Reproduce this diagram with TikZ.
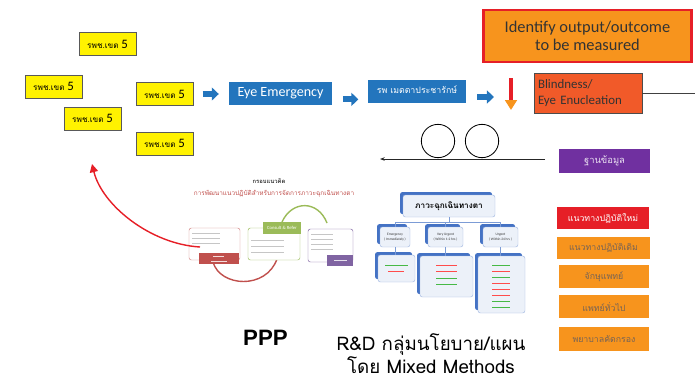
\documentclass[tikz,border=0pt]{standalone}
\usepackage{fontspec}
\setmainfont{Carlito}
\newfontfamily\thaifont[Script=Thai]{Loma}
\newfontfamily\headfont{Liberation Sans}
\usetikzlibrary{arrows.meta, shadows, calc}

\definecolor{slideblue}{RGB}{35,117,189}
\definecolor{hospyellow}{RGB}{255,242,0}
\definecolor{boxorange}{RGB}{247,148,29}
\definecolor{blindorange}{RGB}{241,90,41}
\definecolor{boxred}{RGB}{230,31,39}
\definecolor{dbpurple}{RGB}{112,48,160}
\definecolor{treeblue}{RGB}{68,114,196}
\definecolor{treefill}{RGB}{236,241,249}
\definecolor{fwred}{RGB}{192,80,77}
\definecolor{fwgreen}{RGB}{155,187,89}
\definecolor{fwpurple}{RGB}{128,100,162}
\definecolor{softtext}{RGB}{120,100,85}

\newcommand{\hosptext}{{\thaifont\fontsize{7}{8}\selectfont รพช.เขต} {\fontsize{11}{12}\selectfont 5}}

\tikzset{
  hospbox/.style={draw=gray!70!black, fill=hospyellow, minimum width=1.71cm, minimum height=0.69cm, inner sep=0pt},
  bluebox/.style={fill=slideblue, text=white, inner sep=0pt, minimum height=0.69cm},
  bluearrow/.style={draw=slideblue, line width=5pt, -{Triangle[length=6pt,width=11pt]}},
  sidebox/.style={fill=boxorange, text=softtext, inner sep=0pt, minimum width=2.7cm, minimum height=0.69cm, font=\thaifont\fontsize{7.5}{9}\selectfont},
  treebox/.style={draw=treeblue!50, fill=treefill, rounded corners=2pt, inner sep=0pt,
    drop shadow={shadow xshift=-2.5pt, shadow yshift=2.5pt, fill=treeblue, opacity=1}},
  treeline/.style={draw=treeblue!70, line width=0.6pt},
  smalltree/.style={font=\fontsize{3}{4}\selectfont, align=center, text=black!80}
}

\begin{document}
\begin{tikzpicture}[x=0.03cm, y=-0.03cm]
  \useasboundingbox (0,0) rectangle (695,381);

  % Hospitals of the region
  \node[hospbox] (HospA) at (107.5,44) {\hosptext};
  \node[hospbox] (HospB) at (53.5,86.5) {\hosptext};
  \node[hospbox] (HospC) at (92.5,118.5) {\hosptext};
  \node[hospbox] (HospD) at (164.5,94) {\hosptext};
  \node[hospbox] (HospE) at (164.5,143.5) {\hosptext};

  % Referral path
  \node[bluebox, minimum width=3.09cm, font=\fontsize{12}{14}\selectfont] (EyeEm) at (280.5,93.5) {Eye Emergency};
  \node[bluebox, minimum width=2.94cm, font=\thaifont\fontsize{7.5}{9}\selectfont] (Metta) at (417,91.5) {\raisebox{3pt}{รพ เมตตาประชารักษ์}};
  \coordinate (ArrowEnd) at (494,97);

  \draw[bluearrow, shorten <=8pt, shorten >=8.5pt] (HospD.east) -- (HospD.east -| EyeEm.west);
  \draw[bluearrow, shorten <=9pt, shorten >=8pt] ([yshift=-5pt]EyeEm.east) -- ([yshift=-5pt]EyeEm.east -| Metta.west);
  \draw[bluearrow, shorten <=9.5pt] (Metta.east |- ArrowEnd) -- (ArrowEnd);

  % Outcome
  \node[draw=boxred, line width=2.2pt, fill=boxorange, minimum width=6.25cm, minimum height=1.55cm, align=center,
        text=black!80, font=\fontsize{14}{15}\selectfont] (Identify) at (587.5,36) {Identify output/outcome\\to be measured};
  \node[draw=gray!60!black, fill=blindorange, minimum width=3.24cm, minimum height=1.2cm, align=left,
        text=black!80, font=\fontsize{11}{13}\selectfont, text width=3.0cm] (Blind) at (588,93) {Blindness/\\Eye Enucleation};
  \coordinate (DownTop) at (511,78);
  \coordinate (DownEnd) at (511,110);
  \coordinate (BlindEnd) at (695,93);
  \draw[boxred, line width=3.2pt, -{Triangle[length=8.5pt,width=10pt,color=boxorange]}] (DownTop) -- (DownEnd);
  \draw[black!75, line width=0.8pt] (Blind.east) -- (BlindEnd);

  % Database loop
  \node[draw=black, line width=0.7pt, circle, minimum size=1.0cm] (WheelA) at (438,141) {};
  \node[draw=black, line width=0.7pt, circle, minimum size=1.0cm] (WheelB) at (482,141) {};
  \node[fill=dbpurple, text=white!85!dbpurple, minimum width=2.73cm, minimum height=0.72cm, inner sep=0pt,
        font=\thaifont\fontsize{8}{9}\selectfont] (Database) at (604.5,161) {ฐานข้อมูล};
  \coordinate (LineStart) at (545,159);
  \coordinate (LineEnd) at (380,159);
  \draw[black!85, line width=0.7pt, -{Stealth[length=4pt,width=3pt]}] (LineStart) -- (LineEnd);

  % Guideline levels
  \node[sidebox, fill=boxred, text=white, minimum width=2.76cm, minimum height=0.66cm] (NewGuide) at (603,218) {แนวทางปฏิบัติใหม่};
  \node[sidebox, minimum width=2.79cm, minimum height=0.66cm] (OldGuide) at (603.5,248) {แนวทางปฏิบัติเดิม};
  \node[sidebox] (Ophth) at (604,276.5) {จักษุแพทย์};
  \node[sidebox] (GenDoc) at (604,306.5) {แพทย์ทั่วไป};
  \node[sidebox, minimum height=0.72cm] (Nurse) at (604,339) {พยาบาลคัดกรอง};

  % Triage tree
  \node[treebox, minimum width=2.76cm, minimum height=0.66cm, font=\thaifont\bfseries\fontsize{7}{8}\selectfont] (Root) at (449,206) {ภาวะฉุกเฉินทางตา};
  \node[treebox, smalltree, minimum width=0.9cm, minimum height=0.6cm] (Emerg) at (395,237) {Emergency\\( Immediately )};
  \node[treebox, smalltree, minimum width=1.05cm, minimum height=0.6cm] (VeryUrg) at (445.5,237) {Very Urgent\\( Within 1-2 hrs )};
  \node[treebox, smalltree, minimum width=1.05cm, minimum height=0.6cm] (Urg) at (500.5,237) {Urgent\\( Within 24 hrs )};
  \node[treebox, minimum width=1.11cm, minimum height=0.81cm] (LeafA) at (396.5,268.5) {};
  \node[treebox, minimum width=1.59cm, minimum height=1.23cm] (LeafB) at (446.5,276.5) {};
  \node[treebox, minimum width=1.41cm, minimum height=1.71cm] (LeafC) at (501.5,284.5) {};

  \draw[treeline] (Root.south) -- ++(0,5) -| (Emerg.north);
  \draw[treeline] (Root.south) -- ++(0,5) -| (VeryUrg.north);
  \draw[treeline] (Root.south) -- ++(0,5) -| (Urg.north);
  \draw[treeline] (Emerg.south) -- (Emerg.south |- LeafA.north);
  \draw[treeline] (VeryUrg.south) -- (VeryUrg.south |- LeafB.north);
  \draw[treeline] (Urg.south) -- (Urg.south |- LeafC.north);

  % blurred leaf contents
  \draw[green!45!gray, line width=0.5pt] (385,265) -- (408,265);
  \draw[red!70, line width=0.5pt] (388,271) -- (404,271);
  \foreach \yy/\cc in {265/red!70, 271/red!70, 278/green!45!gray, 284/green!45!gray}
    \draw[\cc, line width=0.5pt] (436,\yy) -- (457,\yy);
  \foreach \yy/\cc in {265/green!45!gray, 271/red!70, 277/green!45!gray, 283/red!70, 289/red!70, 295/red!70, 301/green!45!gray, 307/green!45!gray}
    \draw[\cc, line width=0.5pt] (492,\yy) -- (510,\yy);

  % Framework sketch
  \node[font=\thaifont\bfseries\fontsize{5}{6}\selectfont, text=black!80] (FwTitle) at (269,181) {กรอบแนวคิด};
  \node[font=\thaifont\fontsize{5.5}{6}\selectfont, text=fwred] (FwSub) at (274,194) {การพัฒนาแนวปฏิบัติสำหรับการจัดการภาวะฉุกเฉินทางตา};

  \draw[fwgreen, line width=1.2pt] (282,222) .. controls (292,200) and (318,200) .. (327,223);
  \draw[fwred, line width=1.2pt] (213,262) .. controls (220,287) and (266,290) .. (277,259);

  \node[draw=fwred!70, fill=white, rounded corners=2pt, minimum width=1.53cm, minimum height=0.96cm] (LeftBox) at (214.5,244) {};
  \node[draw=fwgreen, fill=white, rounded corners=2pt, minimum width=1.56cm, minimum height=0.96cm] (MidBox) at (274,244) {};
  \node[draw=fwpurple, fill=white, rounded corners=2pt, minimum width=1.35cm, minimum height=0.99cm] (RightBox) at (330.5,245.5) {};
  \node[fill=fwred, minimum width=1.2cm, minimum height=0.33cm, inner sep=0pt] (LeftLabel) at (219,258.5) {};
  \node[fill=fwgreen, text=white, minimum width=1.14cm, minimum height=0.36cm, inner sep=0pt,
        font=\fontsize{4}{5}\selectfont] (MidLabel) at (282,228) {Consult \& Refer};
  \node[fill=fwpurple, minimum width=0.78cm, minimum height=0.33cm, inner sep=0pt] (RightLabel) at (340,260.5) {};

  \foreach \yy in {233,238,243} \draw[gray!45, line width=0.5pt] (192,\yy) -- (220,\yy);
  \foreach \yy in {240,246,252} \draw[gray!45, line width=0.5pt] (251,\yy) -- (284,\yy);
  \foreach \yy in {234,239,244,249} \draw[gray!45, line width=0.5pt] (311,\yy) -- (333,\yy);
  \draw[white!80!fwred, line width=0.5pt] (213,256) -- (224,256);
  \draw[white!80!fwred, line width=0.5pt] (211,261) -- (227,261);
  \draw[white!80!fwpurple, line width=0.5pt] (334,260.5) -- (347,260.5);

  % Back to the hospitals
  \coordinate (CurveStart) at (200,247);
  \coordinate (CurveEnd) at (92,164);
  \draw[boxred, line width=1.2pt, -{Triangle[length=7pt,width=7pt]}] (CurveStart) .. controls (150,244) and (102,205) .. (CurveEnd);

  % Headings
  \node[font=\headfont\bfseries\fontsize{19}{20}\selectfont] (Ppp) at (265.5,338) {PPP};
  \node[font=\thaifont\fontsize{16}{18.5}\selectfont, align=center] (RnD) at (431,354) {R\&D กลุ่มนโยบาย/แผน\\โดย Mixed Methods};

\end{tikzpicture}
\end{document}
